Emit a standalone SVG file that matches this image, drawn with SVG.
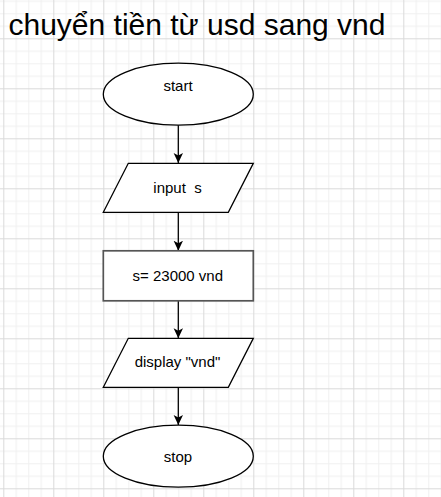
<svg xmlns="http://www.w3.org/2000/svg" width="441" height="497" viewBox="0 0 441 497">
<style>
.shape{fill:#fff;stroke:#000;stroke-width:1.3}
.proc{fill:#fff;stroke:#555;stroke-width:1.7}
.lbl{font-family:"Liberation Sans",Arial,sans-serif;font-size:15px;fill:#000;text-anchor:middle}
.title{font-family:"Liberation Sans",Arial,sans-serif;font-size:30px;fill:#000}
.conn{stroke:#000;stroke-width:1.3;fill:none}
</style>
<defs>
<pattern id="grid" patternUnits="userSpaceOnUse" x="3.3" y="38.3" width="50" height="50">
<rect width="50" height="50" fill="#fff"/>
<g fill="#f0f0f0">
<rect x="12.5" y="0" width="1" height="50"/>
<rect x="25" y="0" width="1" height="50"/>
<rect x="37.5" y="0" width="1" height="50"/>
<rect x="0" y="12.5" width="50" height="1"/>
<rect x="0" y="25" width="50" height="1"/>
<rect x="0" y="37.5" width="50" height="1"/>
</g>
<g fill="#dadada">
<rect x="0" y="0" width="1" height="50"/>
<rect x="0" y="0" width="50" height="1"/>
</g>
</pattern>
<marker id="arrow" markerUnits="userSpaceOnUse" markerWidth="12" markerHeight="12" viewBox="0 0 12 12" refX="10" refY="6" orient="auto">
<path d="M10 6 L0 1.3 L2.5 6 L0 10.7 Z" fill="#000"/>
</marker>
</defs>
<rect width="441" height="497" fill="url(#grid)"/>
<text id="title" class="title" x="8.5" y="34.5">chuyển tiền từ usd sang vnd</text>
<g id="connectors">
<path class="conn" d="M178.3 125 V163" marker-end="url(#arrow)"/>
<path class="conn" d="M178.3 212.3 V250.7" marker-end="url(#arrow)"/>
<path class="conn" d="M178.3 300.7 V338.3" marker-end="url(#arrow)"/>
<path class="conn" d="M178.3 387.3 V425" marker-end="url(#arrow)"/>
</g>
<g id="start">
<ellipse class="shape" cx="178.3" cy="94.2" rx="75" ry="31"/>
<text class="lbl" x="178" y="90.7">start</text>
</g>
<g id="input">
<polygon class="shape" points="128.3,163.3 253.3,163.3 228.3,212.3 103.3,212.3"/>
<text class="lbl" x="177.5" y="192.7" xml:space="preserve">input  s</text>
</g>
<g id="process">
<rect class="proc" x="103.3" y="250.8" width="150" height="50"/>
<text class="lbl" x="177.8" y="280.7">s= 23000 vnd</text>
</g>
<g id="display">
<polygon class="shape" points="128.3,338.3 253.3,338.3 228.3,387.3 103.3,387.3"/>
<text class="lbl" x="177.5" y="367.3">display "vnd"</text>
</g>
<g id="stop">
<ellipse class="shape" cx="178.3" cy="456.2" rx="75" ry="31"/>
<text class="lbl" x="178" y="461.7">stop</text>
</g>
</svg>
